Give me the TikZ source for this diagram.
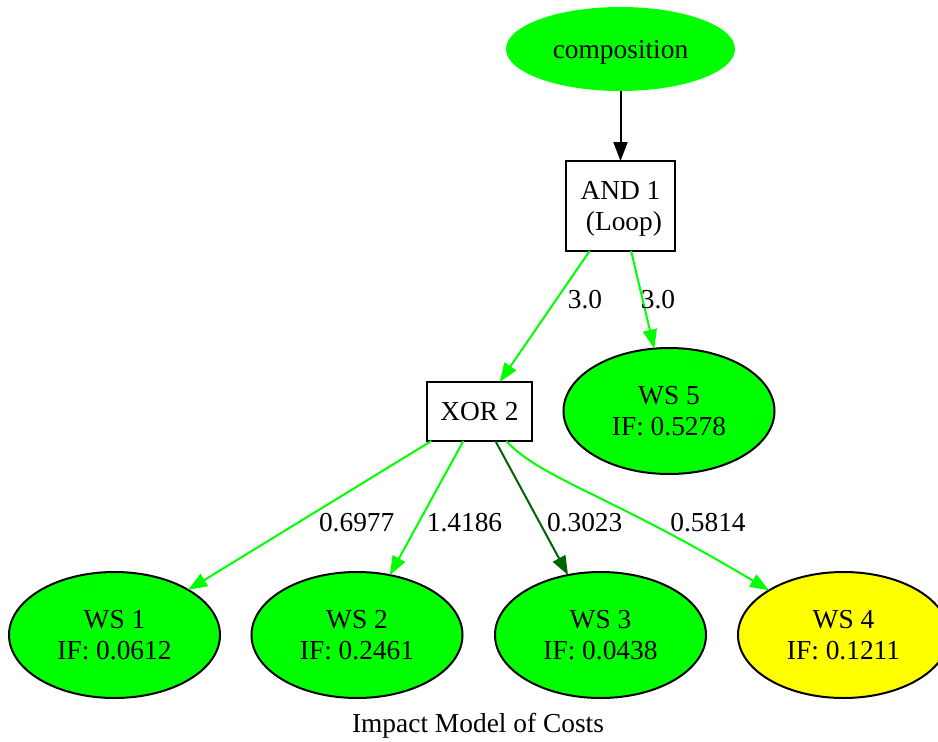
\documentclass[tikz,border=0pt]{standalone}
\usepackage{fontspec}
\setmainfont{Liberation Serif}
\usetikzlibrary{arrows.meta,shapes.geometric}
\definecolor{gvgreen}{HTML}{00FF00}
\definecolor{gvdarkgreen}{HTML}{006400}
\definecolor{gvyellow}{HTML}{FFFF00}
\begin{document}
\begin{tikzpicture}[x=1pt,y=-1pt,
  every node/.style={font=\fontsize{27.4}{31.4}\selectfont, inner sep=0pt, outer sep=0pt},
  oneline/.style={text height=18.6pt, text depth=0pt},
  ws/.style={ellipse, draw=black, line width=2pt, fill=gvgreen,
    minimum width=211pt, minimum height=126pt, align=center},
  gate/.style={rectangle, draw=black, line width=2pt, fill=white, align=center},
  flow/.style={line width=2pt, -{Triangle[length=19pt,width=14pt]}},
  weight/.style={anchor=base},
]
\useasboundingbox (0,0) rectangle (938,742);

% start node and operators
\node[ellipse, fill=gvgreen, minimum width=229pt, minimum height=84pt, oneline]
  (comp) at (620.5,49) {composition};
\node[gate, minimum width=109pt, minimum height=90pt]
  (and1) at (620.5,206) {AND 1\\\raisebox{0pt}[\height][0pt]{~(Loop)}};
\node[gate, minimum width=105pt, minimum height=59pt, oneline]
  (xor2) at (479.5,411.5) {XOR 2};

% web services
\node[ws] (ws5) at (669,411) {WS 5\\IF: 0.5278};
\node[ws] (ws1) at (114.5,635) {WS 1\\IF: 0.0612};
\node[ws] (ws2) at (357,635) {WS 2\\IF: 0.2461};
\node[ws] (ws3) at (600.5,635) {WS 3\\IF: 0.0438};
\node[ws, fill=gvyellow] (ws4) at (843.5,635) {WS 4\\IF: 0.1211};

% connectors
\draw[flow, black] (comp) -- (and1);
\draw[flow, gvgreen] (and1) -- (xor2);
\draw[flow, gvgreen] (and1) -- (ws5);
\draw[flow, gvgreen] (xor2) -- (ws1);
\draw[flow, gvgreen] (xor2) -- (ws2);
\draw[flow, gvdarkgreen] (xor2) -- (ws3);
\draw[flow, gvgreen] (xor2) .. controls (540,478) and (610,495) .. (ws4);

% edge weights
\node[weight] (w-and-xor) at (585,308.3) {3.0};
\node[weight] (w-and-ws5) at (658,308.3) {3.0};
\node[weight] (w-xor-ws1) at (356.7,531.7) {0.6977};
\node[weight] (w-xor-ws2) at (464.5,531.7) {1.4186};
\node[weight] (w-xor-ws3) at (584.7,531.7) {0.3023};
\node[weight] (w-xor-ws4) at (708,531.7) {0.5814};

% caption
\node[anchor=base] (caption) at (478,732.3) {Impact Model of Costs};
\end{tikzpicture}
\end{document}
